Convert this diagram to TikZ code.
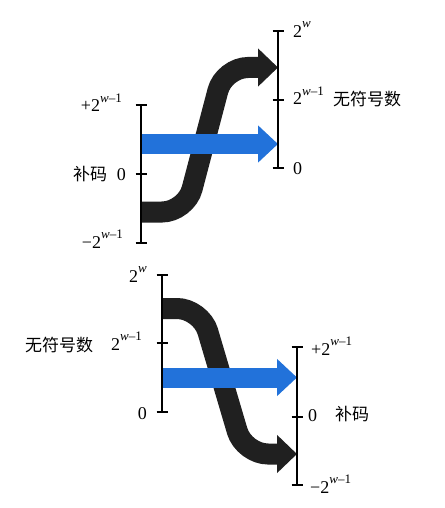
\documentclass[tikz,border=0pt]{standalone}
\usepackage{fontspec}
\setmainfont{Liberation Serif}
\newfontfamily\cjk{Noto Sans CJK SC}
\usetikzlibrary{arrows.meta}
\definecolor{bandblue}{RGB}{34,114,218}
\definecolor{bandblack}{RGB}{32,32,32}
\tikzset{
  axisline/.style={line width=1.4pt, black},
  lbl/.style={inner sep=0pt, font=\fontsize{18}{20}\selectfont},
  cjklbl/.style={inner sep=0pt, font=\fontsize{17}{20}\selectfont\cjk},
  blackband/.style={line width=21pt, bandblack, rounded corners=24pt,
    -{Triangle[width=37pt,length=20pt]}},
  blueband/.style={line width=20pt, bandblue,
    -{Triangle[width=36pt,length=20pt]}},
}
\newcommand{\pw}[1]{2\raisebox{9.5pt}{\fontsize{13}{13}\selectfont\textit{w}#1}}
\begin{document}
\begin{tikzpicture}[x=1pt,y=-1pt]
\useasboundingbox (0,0) rectangle (444,508);
\fill[white] (0,0) rectangle (444,508);

% ---------- top diagram ----------
\coordinate (TLt) at (141,105);
\coordinate (TLz) at (141,174);
\coordinate (TLb) at (141,243);
\coordinate (TRt) at (278,31);
\coordinate (TRm) at (278,100);
\coordinate (TRz) at (278,168);
\coordinate (TBs) at (141,212);
\coordinate (TBe) at (278,67.5);
\coordinate (TUs) at (141,144);
\coordinate (TUe) at (278,144);

\draw[blackband] (TBs) -- (186,212) -- (224,67.5) -- (TBe);
\draw[blueband] (TUs) -- (TUe);

\draw[axisline] (TLt) -- (TLb);
\foreach \c in {TLt,TLz,TLb} \draw[axisline] ([xshift=-5.5pt]\c) -- ([xshift=5.5pt]\c);
\draw[axisline] (TRt) -- (TRz);
\foreach \c in {TRt,TRm,TRz} \draw[axisline] ([xshift=-5.5pt]\c) -- ([xshift=5.5pt]\c);

\node[lbl,anchor=base east] (tl1) at (122,112) {+\pw{–1}};
\node[lbl,anchor=base east] (tl2) at (126,180) {0};
\node[cjklbl,anchor=base west] (tl3) at (73,180.5) {补码};
\node[lbl,anchor=base east] (tl4) at (123,248) {−\pw{–1}};
\node[lbl,anchor=base west] (tr1) at (293,37.5) {\pw{}};
\node[lbl,anchor=base west] (tr2) at (293,105) {\pw{–1}};
\node[cjklbl,anchor=base west] (tr3) at (333,105.5) {无符号数};
\node[lbl,anchor=base west] (tr4) at (293,174) {0};

% ---------- bottom diagram ----------
\coordinate (BLt) at (162,275);
\coordinate (BLm) at (162,343);
\coordinate (BLz) at (162,412);
\coordinate (BRt) at (297,347);
\coordinate (BRz) at (297,417);
\coordinate (BRb) at (297,485);
\coordinate (BBs) at (162,308.5);
\coordinate (BBe) at (297,454);
\coordinate (BUs) at (162,377.5);
\coordinate (BUe) at (297,377.5);

\draw[blackband] (BBs) -- (201,308.5) -- (244,454) -- (BBe);
\draw[blueband] (BUs) -- (BUe);

\draw[axisline] (BLt) -- (BLz);
\foreach \c in {BLt,BLm,BLz} \draw[axisline] ([xshift=-5.5pt]\c) -- ([xshift=5.5pt]\c);
\draw[axisline] (BRt) -- (BRb);
\foreach \c in {BRt,BRz,BRb} \draw[axisline] ([xshift=-5.5pt]\c) -- ([xshift=5.5pt]\c);

\node[lbl,anchor=base east] (bl1) at (147,282) {\pw{}};
\node[lbl,anchor=base east] (bl2) at (142,350) {\pw{–1}};
\node[cjklbl,anchor=base west] (bl3) at (25,351.5) {无符号数};
\node[lbl,anchor=base east] (bl4) at (147,419) {0};
\node[lbl,anchor=base west] (br1) at (311,355) {+\pw{–1}};
\node[lbl,anchor=base west] (br2) at (308,421.5) {0};
\node[cjklbl,anchor=base west] (br3) at (335,420.5) {补码};
\node[lbl,anchor=base west] (br4) at (310,493) {−\pw{–1}};
\end{tikzpicture}
\end{document}
